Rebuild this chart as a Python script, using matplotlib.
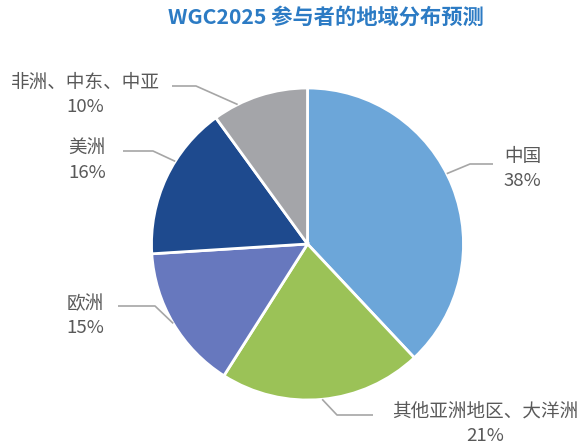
import numpy as np
import matplotlib
matplotlib.use("Agg")
import matplotlib.pyplot as plt

plt.rcParams['font.family'] = ['Noto Sans CJK SC', 'DejaVu Sans']

# data
regions = ['中国', '其他亚洲地区、大洋洲', '欧洲', '美洲', '非洲、中东、中亚']
shares = [38, 21, 15, 16, 10]
colors = ['#6CA6D9', '#9BC257', '#6778BE', '#1E4A8E', '#A4A5A9']

title = 'WGC2025 参与者的地域分布预测'

# pie geometry in pixels
W, H = 579, 448
cx, cy, R = 307.5, 244, 156


def px(x, y):
    # pixel position -> data units of the pie axes
    return (x - cx) / R, (cy - y) / R


fig = plt.figure(figsize=(W / 100, H / 100), dpi=100)
ax = fig.add_axes([(cx - R) / W, (H - cy - R) / H, 2 * R / W, 2 * R / H])

wedges, _ = ax.pie(shares, colors=colors, startangle=90, counterclock=False,
                   radius=1, wedgeprops=dict(edgecolor='white', linewidth=2))
ax.set_xlim(-1, 1)
ax.set_ylim(-1, 1)
ax.axis('off')

# leader lines: attach angle offset from wedge middle, elbow, end, text anchor
layout = [
    dict(off=5.2, elbow=(470, 164), end=(493, 164), text=(504, 169), ha='left'),
    dict(off=0.0, elbow=(337, 415), end=(373, 415), text=(392, 424), ha='left'),
    dict(off=0.0, elbow=(155, 306), end=(118, 306), text=(104, 316), ha='right'),
    dict(off=-6.8, elbow=(153, 151), end=(123, 151), text=(106, 161), ha='right'),
    dict(off=8.6, elbow=(196, 86), end=(172, 86), text=(160, 95), ha='right'),
]

for w, name, val, lay in zip(wedges, regions, shares, layout):
    ang = np.deg2rad((w.theta1 + w.theta2) / 2 + lay['off'])
    sx, sy = np.cos(ang), np.sin(ang)
    ex, ey = px(*lay['elbow'])
    fx, fy = px(*lay['end'])
    ax.plot([sx, ex, fx], [sy, ey, fy], color='#A6A6A6', lw=1.2,
            clip_on=False, solid_capstyle='butt')
    tx, ty = px(*lay['text'])
    ax.text(tx, ty, f'{name}\n{val}%', ha=lay['ha'], va='center',
            multialignment='center', fontsize=13.4, color='#595959',
            linespacing=1.4, fontweight='light')

fig.text(0.562, 0.962, title, ha='center', va='center', fontsize=15.3,
         color='#2C7BC4', fontweight='bold')

fig.savefig('out.png', dpi=100)
